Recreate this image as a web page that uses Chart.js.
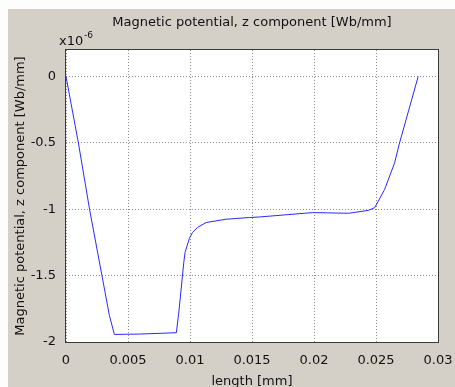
<!DOCTYPE html>
<html>
<head>
<meta charset="utf-8">
<script src="https://cdn.jsdelivr.net/npm/chart.js@4"></script>
<style>
  html, body { margin: 0; padding: 0; background: #fff; }
  #wrap { width: 455px; height: 387px; }
</style>
</head>
<body>
<div id="wrap"><canvas id="myChart" width="455" height="387"></canvas></div>
<script>
// length along the line [mm]
const lengthMm = [0, 0.0010, 0.0019, 0.0029, 0.0035, 0.0039, 0.0060, 0.0089, 0.0091,
  0.0095, 0.0096, 0.00995, 0.0102, 0.0106, 0.0113, 0.0129, 0.0148, 0.0156, 0.0199,
  0.0228, 0.0244, 0.0249, 0.0257, 0.0265, 0.0269, 0.0284];
// Az in units of 1e-6 Wb/mm
const potential = [0, -0.5, -1.0, -1.5, -1.80, -1.943, -1.94, -1.93, -1.775,
  -1.40, -1.325, -1.22, -1.175, -1.137, -1.10, -1.075, -1.062, -1.058, -1.025,
  -1.03, -1.008, -0.987, -0.85, -0.65, -0.5, 0];
const xTicks = [0, 0.005, 0.01, 0.015, 0.02, 0.025, 0.03];
const yTicks = [-2, -1.5, -1, -0.5, 0];

const FONT = "DejaVu Sans";
const ctx = document.getElementById("myChart").getContext("2d");

const frame = {
  id: "frame",
  beforeDraw(chart) {
    const c = chart.ctx;
    const a = chart.chartArea;
    c.save();
    c.fillStyle = "#fdfdfd";
    c.fillRect(0, 0, chart.width, chart.height);
    c.fillStyle = "#d4d0c8";
    c.fillRect(8, 9, chart.width - 8, chart.height - 9);
    c.fillStyle = "#ffffff";
    c.fillRect(a.left, a.top, a.right - a.left, a.bottom - a.top);
    c.restore();
  },
  afterDraw(chart) {
    const c = chart.ctx;
    const a = chart.chartArea;
    c.save();
    c.strokeStyle = "#3a3a3a";
    c.lineWidth = 1;
    c.strokeRect(a.left - 0.5, a.top - 0.5, a.right - a.left + 1, a.bottom - a.top + 1);
    c.fillStyle = "#111";
    c.textBaseline = "alphabetic";
    c.font = "13px " + FONT;
    c.fillText("x10", 59, 45);
    c.font = "9px " + FONT;
    c.fillText("-6", 84, 38);
    c.restore();
  },
};

const myChart = new Chart(ctx, {
  type: "line",
  data: {
    datasets: [
      {
        data: lengthMm.map((x, i) => ({ x: x, y: potential[i] })),
        borderColor: "#2a2aff",
        borderWidth: 1,
        pointRadius: 0,
        tension: 0,
        fill: false,
      },
    ],
  },
  options: {
    responsive: false,
    animation: false,
    layout: { padding: { top: 0, right: 17, bottom: 0, left: 0 } },
    scales: {
      x: {
        type: "linear",
        min: 0,
        max: 0.03,
        afterBuildTicks: (s) => { s.ticks = xTicks.map((v) => ({ value: v })); },
        afterFit: (s) => { s.height = 45; s.paddingLeft = 0; s.paddingRight = 0; },
        grid: { color: "#8a8a8a", drawTicks: false },
        border: { display: false, dash: [1, 2] },
        ticks: {
          color: "#111",
          padding: 11,
          maxRotation: 0,
          font: { family: FONT, size: 13 },
          callback: (v) => String(+v.toFixed(3)),
        },
        title: {
          display: true,
          text: "length [mm]",
          color: "#111",
          padding: { top: 0, bottom: -2 },
          font: { family: FONT, size: 13 },
        },
      },
      y: {
        min: -2,
        max: 0.2,
        afterBuildTicks: (s) => { s.ticks = yTicks.map((v) => ({ value: v })); },
        afterFit: (s) => { s.width = 66; s.paddingTop = 0; s.paddingBottom = 0; },
        grid: { color: "#8a8a8a", drawTicks: false },
        border: { display: false, dash: [1, 2] },
        ticks: {
          color: "#111",
          padding: 10,
          font: { family: FONT, size: 13 },
          callback: (v) => String(v),
        },
        title: {
          display: true,
          text: "Magnetic potential, z component [Wb/mm]",
          color: "#111",
          padding: { top: 13, bottom: 0 },
          font: { family: FONT, size: 13 },
        },
      },
    },
    plugins: {
      legend: { display: false },
      tooltip: { enabled: false },
      title: {
        display: true,
        fullSize: false,
        text: "Magnetic potential, z component [Wb/mm]",
        color: "#111",
        font: { family: FONT, size: 13, weight: "normal" },
        padding: { top: 15, bottom: 19.4 },
      },
    },
  },
  plugins: [frame],
});
</script>
</body>
</html>
